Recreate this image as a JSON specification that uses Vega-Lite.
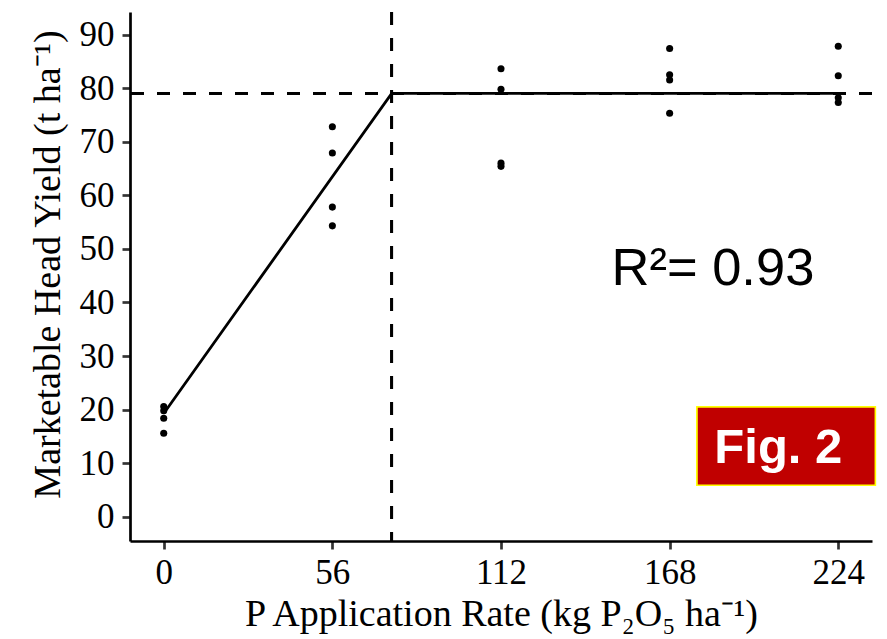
{
  "$schema": "https://vega.github.io/schema/vega-lite/v6.json",
  "width": 742,
  "height": 529,
  "autosize": {"type": "none"},
  "padding": {"left": 130, "top": 12, "right": 15, "bottom": 98},
  "background": "white",
  "config": {
    "view": {"stroke": null},
    "axis": {
      "grid": false,
      "domainColor": "#000000",
      "domainWidth": 2.7,
      "tickColor": "#333333",
      "tickWidth": 2.7,
      "tickSize": 8,
      "labelFont": "Liberation Serif",
      "labelFontSize": 35,
      "labelColor": "#000000",
      "titleFont": "Liberation Serif",
      "titleFontSize": 38,
      "titleFontWeight": "normal",
      "titleColor": "#000000"
    }
  },
  "datasets": {
    "obs": [
      {"rate": 0, "yield": 20.6}, {"rate": 0, "yield": 19.8}, {"rate": 0, "yield": 18.4}, {"rate": 0, "yield": 15.6},
      {"rate": 56, "yield": 72.8}, {"rate": 56, "yield": 67.9}, {"rate": 56, "yield": 57.8}, {"rate": 56, "yield": 54.3},
      {"rate": 112, "yield": 83.6}, {"rate": 112, "yield": 79.8}, {"rate": 112, "yield": 66.0}, {"rate": 112, "yield": 65.4},
      {"rate": 168, "yield": 87.4}, {"rate": 168, "yield": 82.5}, {"rate": 168, "yield": 81.5}, {"rate": 168, "yield": 75.3},
      {"rate": 224, "yield": 87.8}, {"rate": 224, "yield": 82.3}, {"rate": 224, "yield": 78.2}, {"rate": 224, "yield": 77.3}
    ],
    "fit": [
      {"rate": 0, "yield": 19.3},
      {"rate": 75.7, "yield": 79.0},
      {"rate": 224, "yield": 79.0}
    ]
  },
  "layer": [
    {
      "data": {"name": "fit"},
      "mark": {"type": "rule", "color": "#000000", "strokeWidth": 2.7, "strokeDash": [13, 13]},
      "encoding": {
        "y": {"datum": 79.0, "type": "quantitative",
          "scale": {"domain": [-4.5, 94.2], "nice": false, "zero": false},
          "axis": {"values": [0, 10, 20, 30, 40, 50, 60, 70, 80, 90], "labelPadding": 8, "titlePadding": 12, "titleY": 252, "title": "Marketable Head Yield (t ha⁻¹)"}
        }
      }
    },
    {
      "data": {"name": "fit"},
      "mark": {"type": "rule", "color": "#000000", "strokeWidth": 2.7, "strokeDash": [13, 13]},
      "encoding": {
        "x": {"datum": 75.7, "type": "quantitative",
          "scale": {"domain": [-11.2, 235.2], "nice": false, "zero": false},
          "axis": {"values": [0, 56, 112, 168, 224], "labelPadding": 6, "titlePadding": 5, "title": "P Application Rate (kg P₂O₅ ha⁻¹)"}
        }
      }
    },
    {
      "data": {"name": "fit"},
      "mark": {"type": "line", "color": "#000000", "strokeWidth": 2.8},
      "encoding": {
        "x": {"field": "rate", "type": "quantitative"},
        "y": {"field": "yield", "type": "quantitative"}
      }
    },
    {
      "data": {"name": "obs"},
      "mark": {"type": "circle", "color": "#000000", "opacity": 1, "size": 50},
      "encoding": {
        "x": {"field": "rate", "type": "quantitative"},
        "y": {"field": "yield", "type": "quantitative"}
      }
    },
    {
      "data": {"name": "fit"},
      "mark": {"type": "rect", "fill": "#C00000", "stroke": "#FFFF00", "strokeWidth": 1.5},
      "encoding": {
        "x": {"datum": 177.1, "type": "quantitative"},
        "x2": {"datum": 236.3},
        "y": {"datum": 20.5, "type": "quantitative"},
        "y2": {"datum": 5.9}
      }
    },
    {
      "data": {"values": [{"label": "Fig. 2"}]},
      "mark": {"type": "text", "font": "Liberation Sans", "fontWeight": "bold", "fontSize": 49, "color": "#FFFFFF", "align": "center", "baseline": "alphabetic"},
      "encoding": {
        "x": {"datum": 204.1, "type": "quantitative"},
        "y": {"datum": 9.96, "type": "quantitative"},
        "text": {"field": "label"}
      }
    },
    {
      "data": {"values": [{"label": "R²= 0.93"}]},
      "mark": {"type": "text", "font": "Liberation Sans", "fontSize": 52.5, "color": "#000000", "align": "left", "baseline": "alphabetic"},
      "encoding": {
        "x": {"datum": 148.7, "type": "quantitative"},
        "y": {"datum": 43.2, "type": "quantitative"},
        "text": {"field": "label"}
      }
    }
  ]
}
